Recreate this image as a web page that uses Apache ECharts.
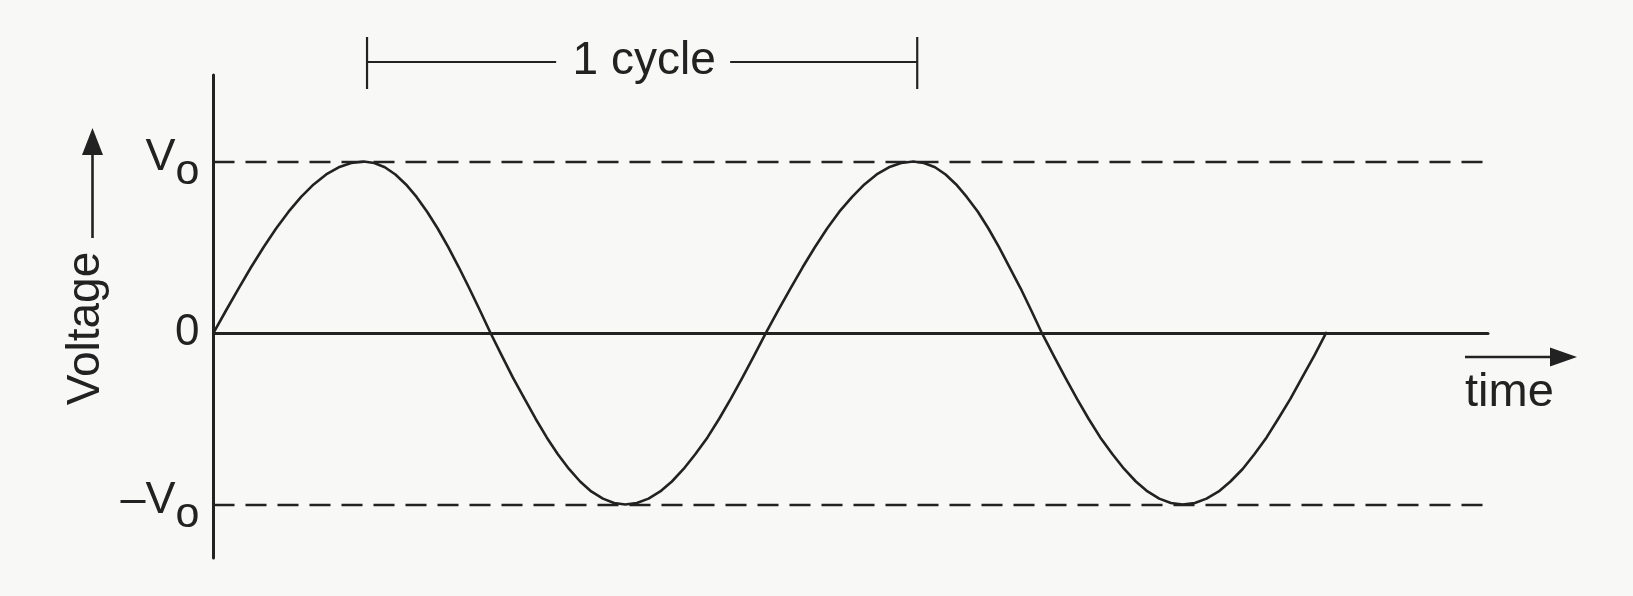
<!DOCTYPE html>
<html>
<head>
<meta charset="utf-8">
<script src="https://cdn.jsdelivr.net/npm/echarts@6/dist/echarts.min.js"></script>
<style>
html,body{margin:0;padding:0;background:#f8f8f6;}
#c{width:1633px;height:596px;}
</style>
</head>
<body>
<div id="c"></div>
<script>
// ---- data (time in cycles, voltage in units of V0) ----
const time = [0,
  0.0225, 0.045, 0.0675, 0.09, 0.1125, 0.135, 0.1575, 0.18, 0.2025, 0.225, 0.2475, 0.27,
  0.289, 0.308, 0.327, 0.346, 0.365, 0.384, 0.403, 0.422, 0.441, 0.46, 0.479, 0.498,
  0.518, 0.538, 0.559, 0.579, 0.599, 0.619, 0.639, 0.659, 0.679, 0.7, 0.72, 0.74,
  0.761, 0.782, 0.803, 0.824, 0.845, 0.866, 0.888, 0.909, 0.93, 0.951, 0.972, 0.993,
  1.015, 1.037, 1.059, 1.081, 1.103, 1.125, 1.148, 1.17, 1.192, 1.214, 1.236, 1.258,
  1.277, 1.297, 1.316, 1.335, 1.354, 1.374, 1.393, 1.412, 1.431, 1.451, 1.47, 1.489,
  1.51, 1.531, 1.552, 1.573, 1.594, 1.616, 1.637, 1.658, 1.679, 1.7, 1.721, 1.742,
  1.764, 1.785, 1.807, 1.828, 1.85, 1.871, 1.893, 1.914, 1.936, 1.957, 1.979, 2.0];
const voltage = [0,
  0.131, 0.259, 0.383, 0.5, 0.609, 0.707, 0.793, 0.866, 0.924, 0.966, 0.991, 1.0,
  0.991, 0.966, 0.924, 0.866, 0.793, 0.707, 0.609, 0.5, 0.383, 0.259, 0.131, 0,
  -0.131, -0.259, -0.383, -0.5, -0.609, -0.707, -0.793, -0.866, -0.924, -0.966, -0.991, -1.0,
  -0.991, -0.966, -0.924, -0.866, -0.793, -0.707, -0.609, -0.5, -0.383, -0.259, -0.131, 0,
  0.131, 0.259, 0.383, 0.5, 0.609, 0.707, 0.793, 0.866, 0.924, 0.966, 0.991, 1.0,
  0.991, 0.966, 0.924, 0.866, 0.793, 0.707, 0.609, 0.5, 0.383, 0.259, 0.131, 0,
  -0.131, -0.259, -0.383, -0.5, -0.609, -0.707, -0.793, -0.866, -0.924, -0.966, -0.991, -1.0,
  -0.991, -0.966, -0.924, -0.866, -0.793, -0.707, -0.609, -0.5, -0.383, -0.259, -0.131, 0];
const yTickValues = [-1, 0, 1];
const yTickLabels = ['{v|–V}{s|o}', '0', '{v|V}{s|o}'];
const peakLevels = [1, -1];
const cycleStart = 0.276;
const cycleEnd = 1.265;
const cycleLabel = '1 cycle';
const xLabel = 'time';
const yLabel = 'Voltage';

const ink = '#222222';
const font = '"Liberation Sans", Arial, Helvetica, sans-serif';

const chart = echarts.init(document.getElementById('c'), null, {renderer: 'canvas'});
const option = {
  backgroundColor: '#f8f8f6',
  animation: false,
  grid: {left: 213.5, right: 145, top: 75, bottom: 38, containLabel: false},
  xAxis: {
    type: 'value', min: 0, max: 2.291,
    axisLine: {show: true, onZero: true, lineStyle: {color: ink, width: 3}},
    axisTick: {show: false}, axisLabel: {show: false}, splitLine: {show: false}
  },
  yAxis: {
    type: 'value', min: -1.312, max: 1.504,
    axisLine: {show: true, lineStyle: {color: ink, width: 3}},
    axisTick: {show: false}, splitLine: {show: false},
    axisLabel: {
      customValues: yTickValues,
      margin: 14,
      color: ink, fontFamily: font, fontSize: 44,
      formatter: function (v) { return yTickLabels[yTickValues.indexOf(v)]; },
      rich: {
        v: {fontSize: 45, fontFamily: font, color: ink, verticalAlign: 'top', padding: [6, 0, 0, 0]},
        s: {fontSize: 43, fontFamily: font, color: ink, verticalAlign: 'top', padding: [21, 0, 0, 0]}
      }
    },
    name: yLabel, nameLocation: 'middle', nameRotate: 90, nameGap: 100,
    nameTextStyle: {fontSize: 46, fontFamily: font, color: ink, padding: [0, 24, 0, 0]}
  },
  series: [{
    type: 'line',
    data: time.map((t, i) => [t, voltage[i]]),
    smooth: false, showSymbol: false, clip: false,
    lineStyle: {color: ink, width: 2.6, join: 'round', cap: 'round'},
    markLine: {
      silent: true, symbol: 'none', label: {show: false},
      lineStyle: {color: ink, width: 2.4, type: [21, 11]},
      data: peakLevels.map(l => ({yAxis: l}))
    }
  }]
};
chart.setOption(option);

// ---- annotations placed through the chart's own scales ----
const pStart = chart.convertToPixel({gridIndex: 0}, [cycleStart, 0]);
const pEnd = chart.convertToPixel({gridIndex: 0}, [cycleEnd, 0]);
const bracketY = 62;
const mid = (pStart[0] + pEnd[0]) / 2;
const lineStyle = {stroke: ink, lineWidth: 2.2};
chart.setOption({
  graphic: [
    {type: 'line', shape: {x1: pStart[0], y1: bracketY, x2: mid - 86, y2: bracketY}, style: lineStyle},
    {type: 'line', shape: {x1: mid + 88, y1: bracketY, x2: pEnd[0], y2: bracketY}, style: lineStyle},
    {type: 'line', shape: {x1: pStart[0], y1: 37, x2: pStart[0], y2: 89}, style: lineStyle},
    {type: 'line', shape: {x1: pEnd[0], y1: 37, x2: pEnd[0], y2: 89}, style: lineStyle},
    {type: 'text', x: mid + 2, y: 61, style: {text: cycleLabel, font: '46px ' + font, fill: ink, align: 'center', verticalAlign: 'middle'}},
    // time arrow
    {type: 'line', shape: {x1: 1465, y1: 357, x2: 1555, y2: 357}, style: {stroke: ink, lineWidth: 2.6}},
    {type: 'polygon', shape: {points: [[1577, 357], [1550, 347.5], [1550, 366.5]]}, style: {fill: ink}},
    {type: 'text', x: 1465, y: 393, style: {text: xLabel, font: '47px ' + font, fill: ink, align: 'left', verticalAlign: 'middle'}},
    // voltage arrow
    {type: 'line', shape: {x1: 92.5, y1: 238, x2: 92.5, y2: 150}, style: {stroke: ink, lineWidth: 2.6}},
    {type: 'polygon', shape: {points: [[92.5, 128], [82, 155], [103, 155]]}, style: {fill: ink}}
  ]
});
</script>
</body>
</html>
